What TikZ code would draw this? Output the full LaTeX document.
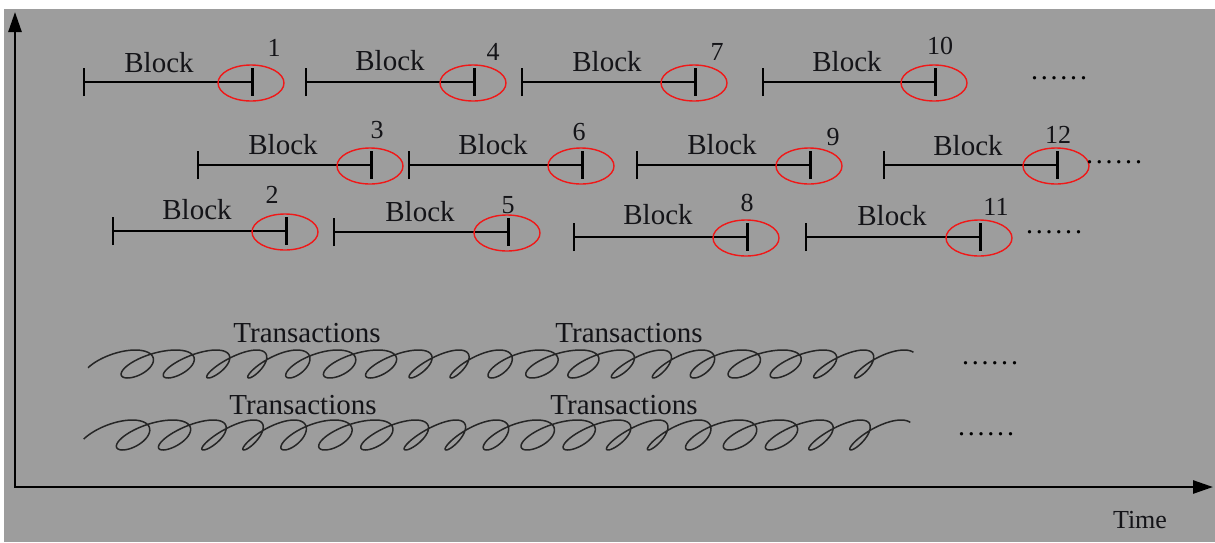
\documentclass[tikz,border=0pt]{standalone}
\usepackage{fontspec}
\setmainfont{Liberation Serif}
\usetikzlibrary{arrows.meta, shapes.geometric}
\definecolor{panelgray}{HTML}{9D9D9D}
\definecolor{markred}{HTML}{F01818}
\definecolor{inkdark}{HTML}{141418}
\tikzset{
    axis/.style={line width=1.3pt, draw=black, {Triangle[length=10pt, width=6.5pt]}-{Triangle[length=10pt, width=6.5pt]}},
    blockbar/.style={line width=1.1pt, draw=black, {Bar[width=14pt]}-{Bar[width=14pt, line width=1.6pt]}},
    endmark/.style={ellipse, draw=markred, line width=0.7pt, minimum width=33pt, minimum height=18pt, inner sep=0pt},
    blocklabel/.style={text=inkdark, inner sep=0pt, font=\fontsize{14.5}{16}\selectfont},
    numlabel/.style={text=inkdark, inner sep=0pt, font=\fontsize{13}{15}\selectfont},
    dotslabel/.style={text=black, inner sep=0pt, font=\fontsize{14}{15}\selectfont\addfontfeatures{LetterSpace=10}},
    coil/.style={line width=0.75pt, draw=black!85, line join=round}
}

\begin{document}
\begin{tikzpicture}[x=0.5pt, y=-0.5pt]
    \useasboundingbox (0,0) rectangle (1215,542);
    \fill[panelgray] (4,9) rectangle (1215,542);

    % axes
    \coordinate (origin) at (15,487);
    \coordinate (ytop) at (15,12);
    \coordinate (xend) at (1213,487);
    \draw[axis] (ytop) -- (origin) -- (xend);
    \node[numlabel] (time) at (1140,520) {Time};

    % blocks: number / start / end / line y / label x,y / number x,y
    \foreach \n/\xa/\xb/\y/\xt/\yt/\xn/\yn in {
        1/83/254/82/159/63/274/48,      4/305/476/82/390/61/493/52,
        7/521/697/82/607/62/717/52,     10/762/937/82/847/62/940/46,
        3/197/373/165/283/145/377/130,  6/408/584/165/493/145/579/132,
        9/636/812/165/722/145/833/137,  12/883/1059/165/968/146/1058/135,
        2/112/288/231/197/210/272/195,  5/333/510/232/420/212/508/205,
        8/573/749/237/658/215/747/203,  11/805/982/237/892/216/996/207} {
        \coordinate (s\n) at (\xa,\y);
        \coordinate (e\n) at (\xb,\y);
        \draw[blockbar] (s\n) -- (e\n);
        \node[endmark] (m\n) at ([shift={(-3,1)}]e\n) {};
        \node[blocklabel] (t\n) at (\xt,\yt) {Block};
        \node[numlabel] (n\n) at (\xn,\yn) {\n};
    }
    \node[dotslabel] (more1) at (1059,78) {......};
    \node[dotslabel] (more2) at (1114,162) {......};
    \node[dotslabel] (more3) at (1054,232) {......};

    % transaction streams
    \node[blocklabel] (tx1) at (307,333) {Transactions};
    \node[blocklabel] (tx2) at (629,333) {Transactions};
    \node[blocklabel] (tx3) at (303,405) {Transactions};
    \node[blocklabel] (tx4) at (624,405) {Transactions};
    \draw[coil] plot[domain=1.3:123.1, samples=900, smooth, variable=\t]
        ({101 + 6.44*\t - (17 + 5*sin(deg(\t/5)))*sin(deg(\t)) - 14*cos(deg(\t))}, {364 + 14*cos(deg(\t))});
    \draw[coil] plot[domain=1.3:123.1, samples=900, smooth, variable=\t]
        ({97 + 6.44*\t - (17 + 5*sin(deg(\t/5)))*sin(deg(\t)) - 15*cos(deg(\t))}, {435 + 15*cos(deg(\t))});
    \node[dotslabel] (more4) at (990,363) {......};
    \node[dotslabel] (more5) at (986,434) {......};
\end{tikzpicture}
\end{document}
